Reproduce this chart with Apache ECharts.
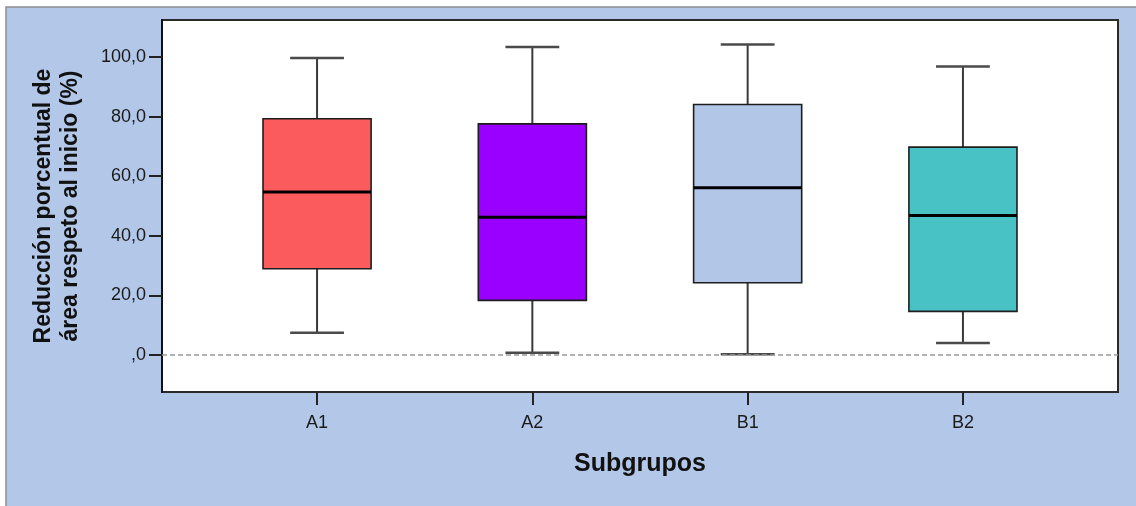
<!DOCTYPE html>
<html>
<head>
<meta charset="utf-8">
<script src="https://cdn.jsdelivr.net/npm/echarts@6/dist/echarts.min.js"></script>
<style>
html,body{margin:0;padding:0;background:#fff;}
#c{width:1136px;height:506px;}
</style>
</head>
<body>
<div id="c"></div>
<script>
// ---- data ----
const categories = ['A1', 'A2', 'B1', 'B2'];
const whiskerLow = [7.4, 0.7, 0.2, 4.0];
const quartile1 = [28.9, 18.3, 24.2, 14.6];
const medians = [54.7, 46.2, 56.1, 46.8];
const quartile3 = [79.3, 77.6, 84.1, 69.8];
const whiskerHigh = [99.7, 103.4, 104.3, 96.9];
const yTickValues = [0, 20, 40, 60, 80, 100];
const yAxisTitle = 'Reducción porcentual de\nárea respeto al inicio (%)';
const xAxisTitle = 'Subgrupos';

// ---- styles ----
const boxColors = ['#fc5b5d', '#9900ff', '#b2c6e8', '#48c2c5'];
const FONT = '"Liberation Sans", Arial, sans-serif';

const boxData = categories.map((c, i) => [i, whiskerLow[i], quartile1[i], medians[i], quartile3[i], whiskerHigh[i]]);

function renderBox(params, api) {
  const i = api.value(0);
  const lo = api.value(1), q1 = api.value(2), med = api.value(3), q3 = api.value(4), hi = api.value(5);
  const band = api.size([1, 0])[0];
  const bw = band * 0.502, cw = band * 0.25;
  const pLo = api.coord([i, lo]), pQ1 = api.coord([i, q1]), pMed = api.coord([i, med]);
  const pQ3 = api.coord([i, q3]), pHi = api.coord([i, hi]);
  const x = pMed[0];
  const wStyle = { stroke: '#3a3a3a', lineWidth: 2 };
  const cStyle = { stroke: '#4a4a4a', lineWidth: 2.5 };
  return {
    type: 'group',
    children: [
      { type: 'line', shape: { x1: x, y1: pHi[1], x2: x, y2: pQ3[1] }, style: wStyle },
      { type: 'line', shape: { x1: x, y1: pQ1[1], x2: x, y2: pLo[1] }, style: wStyle },
      { type: 'line', shape: { x1: x - cw / 2, y1: pHi[1], x2: x + cw / 2, y2: pHi[1] }, style: cStyle },
      { type: 'line', shape: { x1: x - cw / 2, y1: pLo[1], x2: x + cw / 2, y2: pLo[1] }, style: cStyle },
      { type: 'rect', shape: { x: x - bw / 2, y: pQ3[1], width: bw, height: pQ1[1] - pQ3[1] },
        style: { fill: boxColors[i], stroke: '#1e1e1e', lineWidth: 1.6 } },
      { type: 'line', shape: { x1: x - bw / 2, y1: pMed[1], x2: x + bw / 2, y2: pMed[1] },
        style: { stroke: '#000', lineWidth: 3 } }
    ]
  };
}

const chart = echarts.init(document.getElementById('c'), null, { renderer: 'canvas' });
const yMin = -12.5, yMax = 112.5;
chart.setOption({
  backgroundColor: '#ffffff',
  animation: false,
  graphic: [{
    type: 'rect', z: -100, silent: true,
    shape: { x: 6, y: 7, width: 1140, height: 510 },
    style: { fill: '#b3c7e8', stroke: '#8f8f8f', lineWidth: 1.5 }
  }],
  grid: [
    { left: 162, right: 18, top: 20, bottom: 114, show: true, backgroundColor: '#ffffff',
      borderColor: '#2a2a2a', borderWidth: 2 },
    { left: 209.4, right: 65.4, top: 20, bottom: 114 }
  ],
  xAxis: [
    { gridIndex: 0, type: 'value', min: 0, max: 1, show: false },
    { gridIndex: 1, type: 'category', data: categories, boundaryGap: true, position: 'bottom',
      axisLine: { show: false, onZero: false },
      axisTick: { show: true, alignWithLabel: true, length: 13, lineStyle: { color: '#222', width: 2 } },
      axisLabel: { margin: 22, fontSize: 18, color: '#1a1a1a', fontFamily: FONT },
      name: xAxisTitle, nameLocation: 'middle', nameGap: 60,
      nameTextStyle: { fontSize: 25, fontWeight: 'bold', color: '#111', fontFamily: FONT }
    }
  ],
  yAxis: [
    { gridIndex: 0, type: 'value', min: yMin, max: yMax,
      axisLine: { show: true, onZero: false, lineStyle: { color: '#111', width: 2 } },
      axisTick: { show: true, customValues: yTickValues, length: 13, lineStyle: { color: '#222', width: 2 } },
      axisLabel: { customValues: yTickValues, margin: 16, fontSize: 18, color: '#1a1a1a', fontFamily: FONT,
        formatter: v => v === 0 ? ',0' : v.toFixed(1).replace('.', ',') },
      splitLine: { show: false },
      name: yAxisTitle, nameLocation: 'middle', nameGap: 78, nameRotate: 90,
      nameTextStyle: { fontSize: 23, fontWeight: 'bold', color: '#111', fontFamily: FONT, lineHeight: 27 }
    },
    { gridIndex: 1, type: 'value', min: yMin, max: yMax, show: false, splitLine: { show: false } }
  ],
  series: [
    { type: 'line', xAxisIndex: 0, yAxisIndex: 0, data: [], silent: true,
      markLine: { silent: true, symbol: 'none', label: { show: false },
        lineStyle: { color: '#9a9a9a', type: [5, 3], width: 1.5 },
        data: [{ yAxis: 0 }] } },
    { type: 'custom', xAxisIndex: 1, yAxisIndex: 1, data: boxData, renderItem: renderBox,
      encode: { x: 0, y: [1, 2, 3, 4, 5] }, z: 3 }
  ]
});
</script>
</body>
</html>
